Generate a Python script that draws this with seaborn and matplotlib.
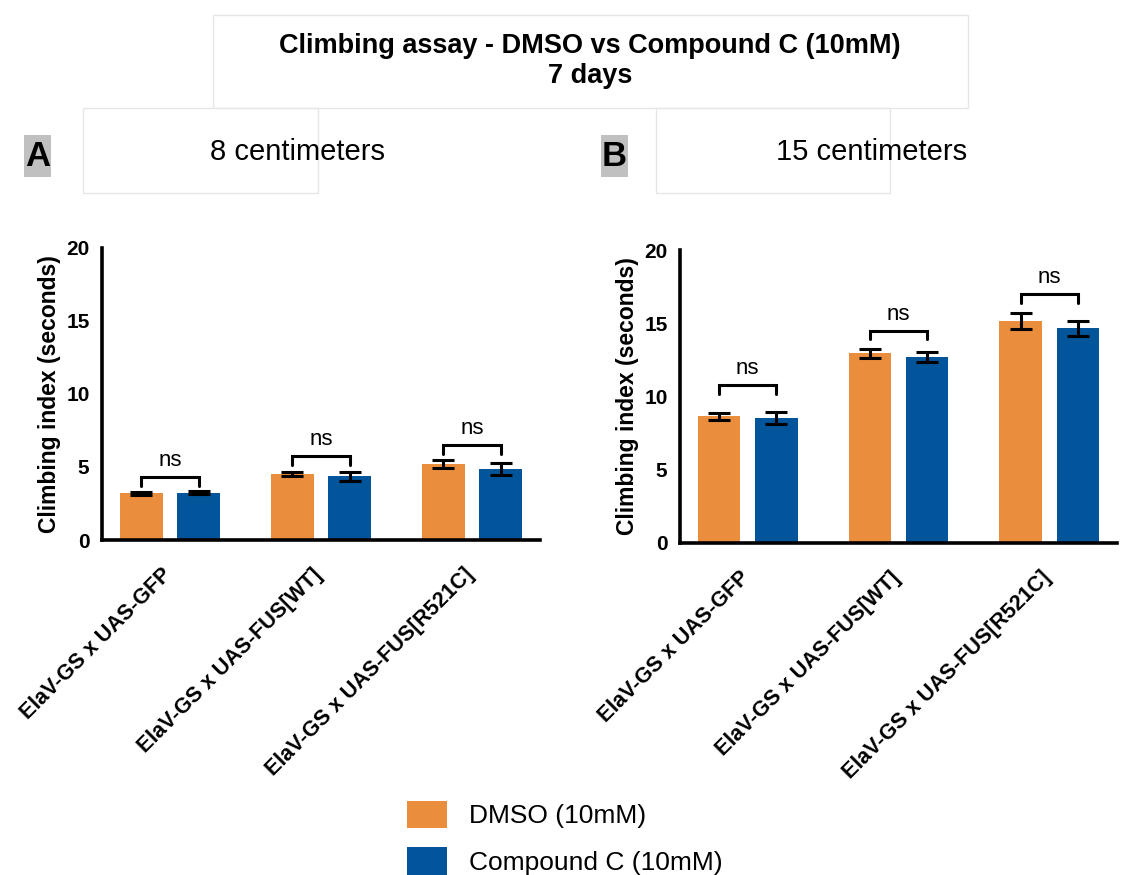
import matplotlib
matplotlib.use("Agg")
import matplotlib.pyplot as plt
from matplotlib.patches import Rectangle, Patch
from matplotlib.transforms import ScaledTranslation
import pandas as pd
import seaborn as sns

genotypes = ["ElaV-GS x UAS-GFP", "ElaV-GS x UAS-FUS[WT]", "ElaV-GS x UAS-FUS[R521C]"]
treatments = ["DMSO (10mM)", "Compound C (10mM)"]
colors = ["#EA8D3C", "#02559A"]

# panel A - 8 centimeters
dmso_8 = [3.2, 4.5, 5.2]
dmso_8_err = [0.1, 0.15, 0.25]
comp_8 = [3.25, 4.35, 4.85]
comp_8_err = [0.1, 0.3, 0.4]
ns_8 = [4.3, 5.75, 6.5]

# panel B - 15 centimeters
dmso_15 = [8.65, 12.95, 15.15]
dmso_15_err = [0.25, 0.3, 0.55]
comp_15 = [8.55, 12.7, 14.65]
comp_15_err = [0.4, 0.35, 0.5]
ns_15 = [10.8, 14.5, 17.0]

W, H = 1122, 875


def px(x0, y0, x1, y1):
    # pixel box (top-left origin) -> figure rect
    return [x0 / W, 1 - y1 / H, (x1 - x0) / W, (y1 - y0) / H]


def draw_panel(ax, dmso, dmso_err, comp, comp_err, ns_levels):
    df = pd.DataFrame({
        "genotype": genotypes * 2,
        "treatment": [treatments[0]] * 3 + [treatments[1]] * 3,
        "value": dmso + comp,
    })
    sns.barplot(data=df, x="genotype", y="value", hue="treatment", order=genotypes,
                hue_order=treatments, palette=colors, width=0.76, gap=0.26,
                errorbar=None, saturation=1, linewidth=0, legend=False, ax=ax)

    centers = []
    for cont, vals, errs in zip(ax.containers, [dmso, comp], [dmso_err, comp_err]):
        xs = [b.get_x() + b.get_width() / 2 for b in cont]
        centers.append(xs)
        ax.errorbar(xs, vals, yerr=errs, fmt="none", ecolor="black",
                    elinewidth=2.2, capsize=8, capthick=2.2, zorder=5)

    for x1, x2, h in zip(centers[0], centers[1], ns_levels):
        ax.plot([x1, x1, x2, x2], [h - 0.6, h, h, h - 0.6], color="black", lw=2.2,
                solid_joinstyle="miter", clip_on=False)
        ax.text((x1 + x2) / 2, h + 0.4, "ns", ha="center", va="bottom", fontsize=16)

    ax.set_xlim(-0.45, 2.45)
    ax.set_ylim(0, 20)
    ax.set_yticks([0, 5, 10, 15, 20])
    ax.set_xlabel("")
    ax.set_ylabel("Climbing index (seconds)", fontsize=16.5, fontweight="bold", labelpad=4)
    for s in ["top", "right"]:
        ax.spines[s].set_visible(False)
    for s in ["left", "bottom"]:
        ax.spines[s].set_linewidth(2.6)
        ax.spines[s].set_color("black")
    ax.tick_params(axis="both", direction="out", length=7, width=2.4, color="black")
    ax.tick_params(axis="y", labelsize=15, pad=2)
    for t in ax.get_yticklabels():
        t.set_fontweight("bold")
    ax.set_xticks(range(3))
    ax.set_xticklabels(genotypes, rotation=45, ha="right", rotation_mode="anchor",
                       fontsize=15.5, fontweight="bold")
    ax.tick_params(axis="x", pad=4)
    shift = ScaledTranslation(-0.09, -0.09, ax.figure.dpi_scale_trans)
    for t in ax.get_xticklabels():
        t.set_transform(t.get_transform() + shift)
    ax.grid(False)


sns.set_style("white")
plt.rcParams["font.family"] = ["Liberation Sans", "DejaVu Sans"]
plt.rcParams["text.color"] = "black"
plt.rcParams["axes.labelcolor"] = "black"
plt.rcParams["xtick.color"] = "black"
plt.rcParams["ytick.color"] = "black"

fig = plt.figure(figsize=(W / 100, H / 100), dpi=100)

# faint slide boxes behind the titles
for x0, y0, x1, y1 in [(213, 15, 968, 108), (83, 108, 318, 193), (656, 108, 890, 193)]:
    r = px(x0, y0, x1, y1)
    fig.add_artist(Rectangle((r[0], r[1]), r[2], r[3], transform=fig.transFigure,
                             facecolor="white", edgecolor="#e6e6e6", lw=1))

fig.text(590 / W, 1 - 46 / H, "Climbing assay - DMSO vs Compound C (10mM)",
         ha="center", va="center", fontsize=19.5, fontweight="bold")
fig.text(590 / W, 1 - 76 / H, "7 days", ha="center", va="center", fontsize=19.5,
         fontweight="bold")

for lab, x0, sub, xc in [("A", 24, "8 centimeters", 298), ("B", 601, "15 centimeters", 872)]:
    r = px(x0, 135, x0 + 27, 177)
    fig.add_artist(Rectangle((r[0], r[1]), r[2], r[3], transform=fig.transFigure,
                             facecolor="#c0c0c0", edgecolor="none"))
    fig.text((x0 + 13.5) / W, 1 - 157 / H, lab, ha="center", va="center", fontsize=25,
             fontweight="bold")
    fig.text(xc / W, 1 - 152 / H, sub, ha="center", va="center", fontsize=21)

ax_a = fig.add_axes(px(102, 248, 540, 540))
ax_b = fig.add_axes(px(680, 250, 1117, 543))
draw_panel(ax_a, dmso_8, dmso_8_err, comp_8, comp_8_err, ns_8)
draw_panel(ax_b, dmso_15, dmso_15_err, comp_15, comp_15_err, ns_15)

handles = [Patch(facecolor=c, edgecolor="none") for c in colors]
fig.legend(handles, treatments, loc="upper left", bbox_to_anchor=(396 / W, 1 - 790 / H),
           frameon=False, fontsize=19, handlelength=1.55, handleheight=1.25,
           handletextpad=0.8, labelspacing=0.7, borderaxespad=0)

fig.savefig("out.png", dpi=100)
